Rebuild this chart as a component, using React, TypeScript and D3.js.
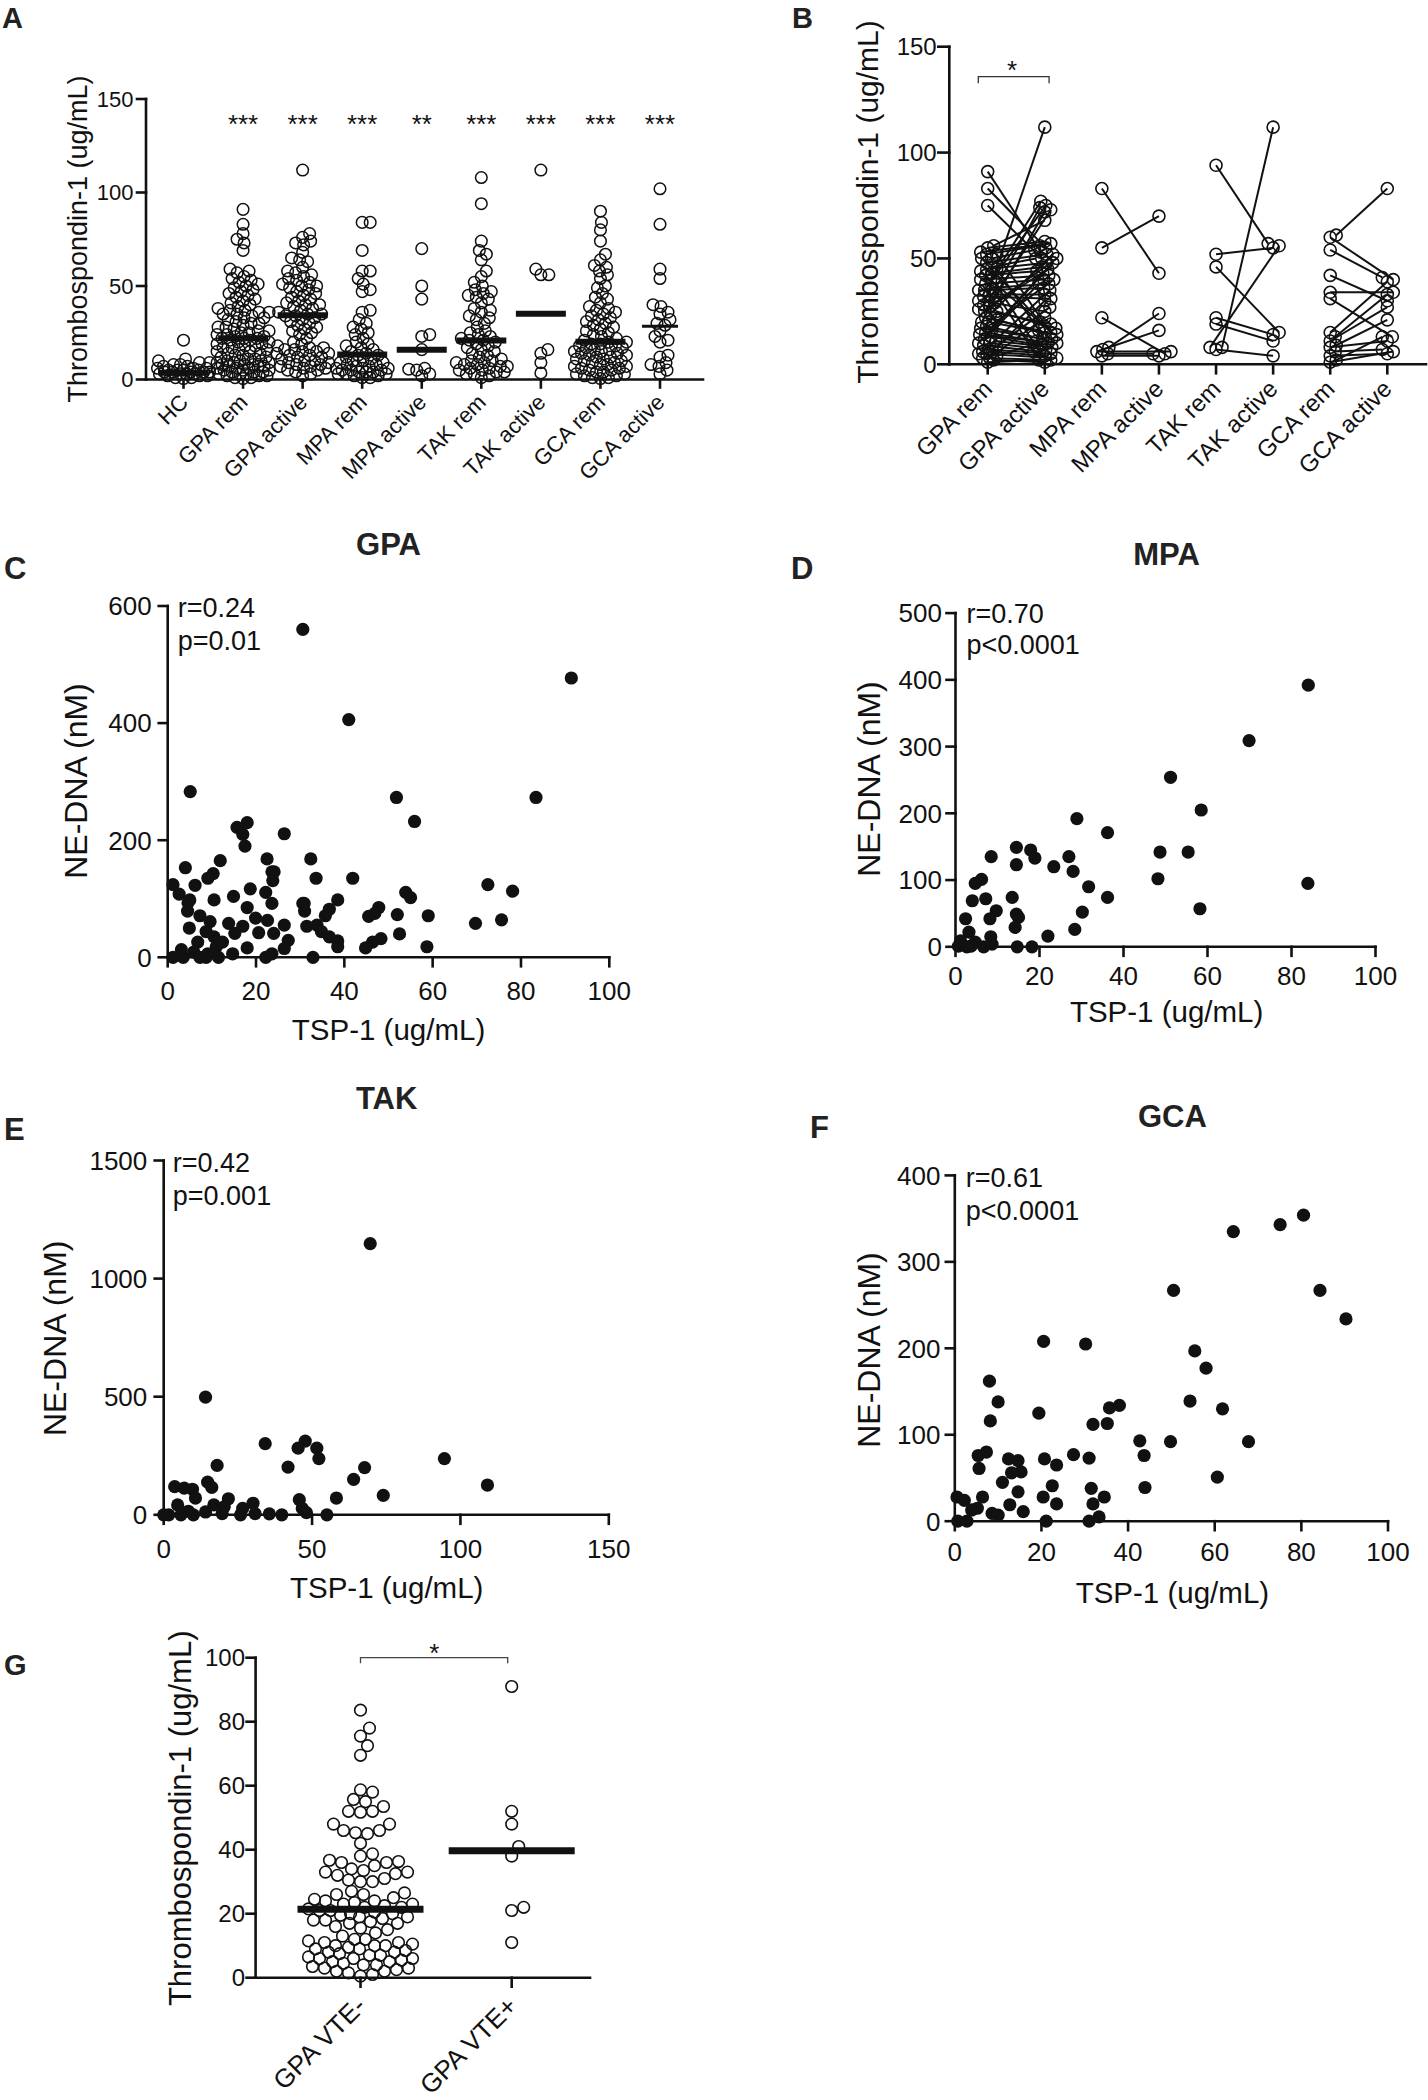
import React from 'react';
import * as d3 from 'd3';

const FONT = "'Liberation Sans', Arial, Helvetica, sans-serif";
const INK = '#111';

// ---------------- Panel A data ----------------
const groupsA = ['HC', 'GPA rem', 'GPA active', 'MPA rem', 'MPA active', 'TAK rem', 'TAK active', 'GCA rem', 'GCA active'];
const hcVals = [21, 11, 10, 9, 9, 8, 8, 7, 7, 6, 6, 6, 5, 5, 5, 5, 4, 4, 4, 4, 4, 3, 3, 3, 3, 2, 2, 2, 1, 1, 0.5];
const gpaRemVals = [91, 83, 78, 75, 73, 69, 59, 58, 57, 55, 54, 53, 52, 51, 50, 49, 48, 47, 46, 45, 44, 43, 42, 41, 40, 39, 38, 37, 37, 36, 36, 35, 35, 34, 33, 33, 32, 31, 30, 30, 29, 28, 28, 27, 26, 26, 25, 25, 24, 24, 23, 23, 22, 22, 22, 21, 21, 20, 20, 19, 19, 18, 18, 17, 17, 16, 16, 15, 15, 14, 14, 13, 13, 12, 12, 11, 11, 10, 10, 10, 9, 9, 9, 8, 8, 8, 7, 7, 7, 6, 6, 6, 5, 5, 5, 4, 4, 4, 3, 3, 3, 2, 2, 2, 1, 1, 0.5];
const gpaActVals = [112, 78, 76, 74, 73, 72, 68, 65, 64, 63, 60, 58, 57, 56, 55, 54, 53, 52, 51, 50, 50, 49, 48, 47, 46, 45, 44, 43, 42, 41, 40, 40, 39, 38, 37, 36, 35, 35, 34, 34, 33, 32, 31, 30, 29, 28, 27, 26, 25, 24, 22, 20, 19, 18, 17, 17, 16, 16, 15, 15, 14, 14, 13, 13, 12, 12, 11, 10, 10, 9, 9, 8, 8, 7, 7, 6, 6, 5, 5, 4, 3, 2];
const mpaRemVals = [84, 84, 69, 58, 58, 54, 51, 48, 47, 37, 36, 32, 30, 28, 27, 25, 24, 22, 20, 19, 18, 17, 16, 15, 14, 13, 13, 12, 11, 10, 10, 9, 9, 8, 8, 7, 7, 6, 6, 6, 5, 5, 5, 4, 4, 4, 3, 3, 3, 2, 2, 1, 1];
const mpaActVals = [70, 50, 43, 24, 23, 16, 6, 5.5, 5, 3, 2];
const takRemVals = [108, 94, 74, 69, 67, 64, 58, 55, 52, 50, 48, 47, 46, 45, 44, 43, 41, 38, 37, 36, 34, 33, 32, 30, 28, 26, 25, 24, 23, 22, 21, 21, 20, 19, 18, 17, 16, 15, 14, 13, 12, 11, 10, 10, 9, 9, 8, 8, 7, 7, 6, 6, 5, 5, 4, 4, 3, 3, 2, 1];
const takActVals = [112, 59, 56, 56, 16, 14, 9, 3.5];
const gcaRemVals = [90, 84, 80, 74, 67, 64, 61, 60, 58, 56, 54, 50, 49, 46, 44, 43, 41, 39, 38, 37, 36, 35, 34, 33, 32, 31, 30, 29, 28, 27, 26, 25, 24, 23, 22, 21, 20, 20, 19, 19, 18, 18, 17, 17, 16, 16, 15, 15, 14, 14, 13, 13, 12, 12, 11, 11, 10, 10, 9, 9, 8, 8, 7, 7, 6, 6, 5, 5, 4, 4, 3, 3, 2, 2, 1, 1, 0.5];
const gcaActVals = [102, 83, 59, 54, 40, 39, 36, 35, 32, 30, 29, 26, 23, 21, 20, 13, 12, 9, 8, 7, 5, 3];
const valuesA = [hcVals, gpaRemVals, gpaActVals, mpaRemVals, mpaActVals, takRemVals, takActVals, gcaRemVals, gcaActVals];
const mediansA = [3.6, 22.1, 34.3, 13.4, 15.9, 20.9, 35.2, 20.2, 28.5];
const starsA = ['', '***', '***', '***', '**', '***', '***', '***', '***'];
const ticksA = [0, 50, 100, 150];

// ---------------- Panel B data ----------------
const groupsB = ['GPA rem', 'GPA active', 'MPA rem', 'MPA active', 'TAK rem', 'TAK active', 'GCA rem', 'GCA active'];
const pairsGPA: [number, number][] = [[91, 53], [83, 55], [75, 50], [28, 112], [40, 77], [35, 75], [30, 74], [25, 73], [20, 72], [56, 68], [55, 58], [53, 57], [52, 56], [50, 54], [48, 52], [46, 50], [45, 48], [43, 46], [42, 44], [40, 42], [38, 40], [36, 38], [35, 36], [33, 33], [32, 31], [30, 25], [29, 50], [27, 45], [26, 19], [25, 17], [24, 52], [22, 16], [21, 15], [20, 14], [19, 40], [18, 13], [17, 12], [16, 48], [15, 11], [14, 10], [13, 9], [12, 38], [11, 8], [10, 7], [9, 6], [8, 30], [7, 5], [6, 4], [5, 3], [4, 12], [3, 2], [2, 1], [1, 2], [45, 10], [50, 18], [52, 15], [38, 8], [34, 6], [44, 20], [10, 43], [6, 35], [5, 27], [3, 22]];
const pairsMPA: [number, number][] = [[83, 43], [55, 70], [22, 5], [8, 24], [7, 16], [6, 6], [5, 5], [4, 4]];
const pairsTAK: [number, number][] = [[94, 57], [52, 55], [46, 15], [22, 14], [19, 11], [8, 112], [8, 56], [7, 4]];
const pairsGCA: [number, number][] = [[61, 83], [60, 40], [54, 41], [42, 30], [34, 34], [31, 13], [15, 39], [13, 33], [11, 27], [9, 21], [8, 11], [6, 7], [4, 5], [2, 13], [1, 6]];
const pairsB = [pairsGPA, pairsMPA, pairsTAK, pairsGCA];
const ticksB = [0, 50, 100, 150];

// ---------------- Panels C-F data ----------------
const gpaTSP = [30.6, 91.4, 41, 5.1, 51.8, 83.4, 55.9, 15.7, 18, 17, 17.5, 26.4, 22.5, 32.4, 11.9, 4, 23.6, 10.3, 9.1, 33.6, 41.9, 23.8, 1.2, 6.2, 72.5, 78.1, 2.6, 18.7, 22.2, 53.9, 55, 10.5, 14.9, 23.6, 38.5, 4.6, 30.6, 18, 31, 59, 45.5, 47.8, 46.9, 52, 4.5, 7.3, 36.6, 35.7, 69.7, 75.6, 19.9, 22.6, 9.6, 13.8, 4.9, 17, 31.5, 26.4, 33.8, 52.5, 15.2, 8.7, 10.5, 20.6, 24, 34.8, 36.6, 38.5, 48.3, 46.4, 27.3, 12.4, 6.8, 44.8, 58.7, 38.5, 18, 26.4, 11, 3.1, 5.9, 1.2, 3.5, 8.7, 11.5, 22.2, 32.9, 23.6, 9.1, 7.3, 14.7, 24.1, 5, 30.9];
const gpaNE = [560, 477, 406, 283, 273, 273, 232, 222, 230, 210, 190, 211, 168, 168, 165, 153, 146, 143, 135, 135, 135, 131, 124, 123, 124, 113, 108, 117, 111, 111, 102, 98, 104, 92, 98, 93, 92, 85, 79, 71, 70, 85, 75, 73, 79, 71, 82, 71, 58, 64, 67, 63, 61, 58, 50, 53, 53, 55, 55, 40, 41, 44, 35, 42, 41, 44, 35, 28, 32, 26, 29, 26, 26, 16, 18, 18, 16, 15, 18, 13, 9, 0, 0, 0, 0, 0, 0, 6, 6, 0, 6, 146, 98, 92];
const mpaTSP = [84, 69.9, 51.2, 58.5, 28.9, 36.2, 14.5, 17.9, 18.9, 8.5, 27, 48.7, 55.4, 14.5, 23.4, 28, 48.2, 83.9, 6.2, 4.7, 31.7, 4, 7.2, 13.5, 36.2, 58.2, 9.7, 14.5, 8.2, 30.2, 15, 2.4, 14.2, 28.4, 22, 3.2, 8.4, 1.2, 4.7, 14.7, 18.2, 2.7, 6.7, 8.7, 0.7, 3.7];
const mpaNE = [392, 309, 254, 205, 192, 171, 149, 145, 133, 135, 135, 142, 142, 123, 120, 113, 102, 95, 101, 95, 90, 69, 72, 74, 74, 57, 54, 49, 42, 52, 44, 42, 29, 26, 16, 22, 15, 9, 7, 0, 0, 0, 0, 4, 1, 1];
const takTSP = [69.6, 14.1, 34.2, 47.7, 45.3, 51.6, 52.3, 94.6, 18, 41.9, 67.7, 64, 109.1, 14.8, 16.2, 3.7, 6.9, 9.7, 74, 58.2, 45.7, 21.8, 10.7, 4.7, 30.1, 16.9, 20.4, 46.7, 26.6, 35.6, 39.8, 55, 25.9, 0, 1.7, 5.8, 10, 14.1, 19.7, 30.8, 48.1, 8.3];
const takNE = [1148, 498, 301, 312, 282, 282, 238, 238, 209, 202, 200, 150, 126, 138, 116, 119, 113, 108, 82, 71, 64, 68, 71, 42, 49, 42, 34, 27, 27, 4, 0, 0, 0, 0, 0, 0, 0, 12, 5, 5, 9, 15];
const gcaTSP = [80.5, 75.1, 64.3, 84.3, 50.5, 90.3, 20.5, 30.2, 55.4, 58, 8, 10, 54.3, 61.8, 38, 35.7, 19.4, 8.2, 35.2, 31.9, 42.7, 49.8, 67.8, 43.7, 27.4, 7.3, 5.4, 31, 20.7, 12.4, 14.6, 23.5, 5.6, 15.3, 13.1, 60.6, 11, 22.5, 43.9, 14.6, 31.5, 6.4, 20.4, 34.5, 0.5, 2.2, 12.7, 23.5, 31.9, 5.2, 8.6, 10, 15.8, 3.9, 33.3, 21.1, 31, 0.7, 2.8];
const gcaNE = [354, 343, 335, 267, 267, 234, 208, 205, 197, 177, 162, 138, 139, 130, 134, 131, 125, 116, 113, 112, 93, 92, 92, 76, 77, 80, 76, 73, 72, 72, 70, 65, 61, 57, 56, 51, 45, 41, 39, 34, 38, 28, 28, 28, 28, 24, 19, 20, 20, 15, 9, 7, 11, 13, 5, 0, 0, 0, 0];

// ---------------- Panel G data ----------------
const groupsG = ['GPA VTE-', 'GPA VTE+'];
const vteNeg = [83.6, 78, 75.5, 72.5, 69.5, 58.7, 58, 55.7, 55, 53.5, 52, 52, 51.7, 48, 48, 46, 46, 45.3, 45, 42, 38.7, 38, 36.7, 36.3, 36, 36, 35, 34, 33.5, 33, 33, 32.5, 32, 31, 30.5, 30, 30, 27, 26.5, 26, 26, 25, 24.5, 24, 24, 23.5, 23, 23, 22.5, 22, 22, 21.5, 21, 21, 20.5, 20, 20, 19.5, 19, 19, 18.5, 18, 18, 17.5, 17, 17, 16, 15.5, 15, 14, 13, 12, 12, 11.5, 11, 11, 10.5, 10, 10, 10, 9.5, 9, 9, 8.5, 8, 8, 7.5, 7, 7, 6.5, 6, 6, 6, 5.5, 5, 5, 4.5, 4, 4, 3.5, 3, 3, 2.5, 2, 2, 1.5, 1, 0.5];
const vtePos = [91, 52, 48, 41, 38, 22, 21, 11];
const valuesG = [vteNeg, vtePos];
const mediansG = [21.4, 39.7];
const ticksG = [0, 20, 40, 60, 80, 100];

// ---------------- helpers ----------------
function swarm(vals: number[], y: (v: number) => number, d: number, maxW: number): number[] {
  const idx = vals.map((_, i) => i).sort((a, b) => vals[a] - vals[b]);
  const placed: { x: number; y: number }[] = [];
  const out = new Array(vals.length).fill(0);
  const cands: number[] = [0];
  for (let k = 1; k <= maxW; k++) cands.push(k, -k);
  for (const i of idx) {
    const yy = y(vals[i]);
    let best = 0;
    let bestScore = -Infinity;
    for (const c of cands) {
      let minD = Infinity;
      for (const p of placed) {
        const dy = p.y - yy;
        if (Math.abs(dy) >= d) continue;
        const dd = Math.hypot(p.x - c, dy);
        if (dd < minD) minD = dd;
      }
      if (minD >= d) { best = c; bestScore = Infinity; break; }
      if (minD > bestScore) { bestScore = minD; best = c; }
    }
    placed.push({ x: best, y: yy });
    out[i] = best;
  }
  return out;
}

const axisStroke = { stroke: INK, strokeWidth: 2.6, strokeLinecap: 'square' as const };

function RotLabel({ x, y, text, size }: { x: number; y: number; text: string; size: number }) {
  return (
    <text x={x} y={y} textAnchor="end" fontSize={size} fill={INK} transform={`rotate(-45 ${x} ${y})`}>{text}</text>
  );
}

function PanelA() {
  const x = d3.scalePoint<string>().domain(groupsA).range([183.5, 660]);
  const y = d3.scaleLinear().domain([0, 150]).range([379.5, 99]);
  const ax = 146;
  const ay = y(0);
  return (
    <g>
      <text x={2} y={28} fontSize={29} fontWeight="bold" fill="#222">A</text>
      <text transform={`translate(87,239) rotate(-90)`} textAnchor="middle" fontSize={27} fill={INK}>Thrombospondin-1 (ug/mL)</text>
      <line x1={ax} x2={ax} y1={y(150)} y2={ay} {...axisStroke} />
      <line x1={ax} x2={703} y1={ay} y2={ay} {...axisStroke} />
      {ticksA.map(t => (
        <g key={t}>
          <line x1={ax - 9} x2={ax} y1={y(t)} y2={y(t)} {...axisStroke} />
          <text x={133.5} y={y(t)} dy="0.36em" textAnchor="end" fontSize={22} fill={INK}>{t}</text>
        </g>
      ))}
      {groupsA.map((g, i) => {
        const cx = x(g) as number;
        const offs = swarm(valuesA[i], y, 7.5, 26);
        const thin = g === 'GCA active';
        const bw = thin ? 36 : 50;
        return (
          <g key={g}>
            <line x1={cx} x2={cx} y1={ay} y2={ay + 8} {...axisStroke} />
            {valuesA[i].map((v, j) => (
              <circle key={j} cx={cx + offs[j]} cy={y(v)} r={5.8} fill="none" stroke={INK} strokeWidth={1.5} />
            ))}
            <line x1={cx - bw / 2} x2={cx + bw / 2} y1={y(mediansA[i])} y2={y(mediansA[i])} stroke={INK} strokeWidth={thin ? 3 : 6} />
            {starsA[i] && <text x={cx} y={133} textAnchor="middle" fontSize={26} fill={INK}>{starsA[i]}</text>}
            <RotLabel x={cx + 6} y={ay + 24} text={g} size={22} />
          </g>
        );
      })}
    </g>
  );
}

function PanelB() {
  const x = d3.scalePoint<string>().domain(groupsB).range([987.7, 1387.3]);
  const y = d3.scaleLinear().domain([0, 150]).range([364.3, 46.7]);
  const ax = 949.3;
  const ay = y(0);
  return (
    <g>
      <text x={792} y={28} fontSize={29} fontWeight="bold" fill="#222">B</text>
      <text transform={`translate(878,202) rotate(-90)`} textAnchor="middle" fontSize={30} fill={INK}>Thrombospondin-1 (ug/mL)</text>
      <line x1={ax} x2={ax} y1={y(150)} y2={ay} {...axisStroke} />
      <line x1={ax} x2={1426} y1={ay} y2={ay} {...axisStroke} />
      {ticksB.map(t => (
        <g key={t}>
          <line x1={ax - 11} x2={ax} y1={y(t)} y2={y(t)} {...axisStroke} />
          <text x={936.7} y={y(t)} dy="0.36em" textAnchor="end" fontSize={24} fill={INK}>{t}</text>
        </g>
      ))}
      {groupsB.map(g => {
        const cx = x(g) as number;
        return (
          <g key={g}>
            <line x1={cx} x2={cx} y1={ay} y2={ay + 9} {...axisStroke} />
            <RotLabel x={cx + 6} y={ay + 26} text={g} size={24} />
          </g>
        );
      })}
      {pairsB.map((pairs, k) => {
        const xr = x(groupsB[2 * k]) as number;
        const xa = x(groupsB[2 * k + 1]) as number;
        const rem = pairs.map(p => p[0]);
        const act = pairs.map(p => p[1]);
        const oR = swarm(rem, y, 6, 9);
        const oA = swarm(act, y, 6, 12);
        return (
          <g key={k}>
            {pairs.map((p, j) => (
              <line key={'l' + j} x1={xr + oR[j]} y1={y(p[0])} x2={xa + oA[j]} y2={y(p[1])} stroke={INK} strokeWidth={2} />
            ))}
            {pairs.map((p, j) => (
              <g key={'c' + j}>
                <circle cx={xr + oR[j]} cy={y(p[0])} r={6} fill="none" stroke={INK} strokeWidth={1.6} />
                <circle cx={xa + oA[j]} cy={y(p[1])} r={6} fill="none" stroke={INK} strokeWidth={1.6} />
              </g>
            ))}
          </g>
        );
      })}
      <path d={`M${x('GPA rem')! - 9.4},83.3 V76.7 H${x('GPA active')! + 4.3} V83.3`} fill="none" stroke="#333" strokeWidth={1.3} />
      <text x={1012} y={79} textAnchor="middle" fontSize={26} fill={INK}>*</text>
    </g>
  );
}

interface ScatterCfg {
  letter: string; letterX: number; letterY: number;
  title: string; titleX: number; titleY: number;
  xs: number[]; ys: number[];
  xDomain: [number, number]; yDomain: [number, number];
  xTicks: number[]; yTicks: number[];
  xRange: [number, number]; yRange: [number, number];
  rText: string; pText: string; statX: number; rY: number; pY: number;
  tickRight: number; xLabY: number; xTitleY: number; yTitleX: number; yTitleY: number;
}

function Scatter(c: ScatterCfg) {
  const x = d3.scaleLinear().domain(c.xDomain).range(c.xRange);
  const y = d3.scaleLinear().domain(c.yDomain).range(c.yRange);
  const ax = c.xRange[0];
  const ay = c.yRange[0];
  const midX = (c.xRange[0] + c.xRange[1]) / 2;
  return (
    <g>
      <text x={c.letterX} y={c.letterY} fontSize={31} fontWeight="bold" fill="#222">{c.letter}</text>
      <text x={c.titleX} y={c.titleY} textAnchor="middle" fontSize={31} fontWeight="bold" fill="#222">{c.title}</text>
      <text transform={`translate(${c.yTitleX},${c.yTitleY}) rotate(-90)`} textAnchor="middle" fontSize={32} fill={INK}>NE-DNA (nM)</text>
      <text x={c.titleX} y={c.xTitleY} textAnchor="middle" fontSize={29.5} fill={INK}>TSP-1 (ug/mL)</text>
      <line x1={ax} x2={ax} y1={c.yRange[1]} y2={ay} {...axisStroke} />
      <line x1={ax} x2={c.xRange[1]} y1={ay} y2={ay} {...axisStroke} />
      {c.yTicks.map(t => (
        <g key={'y' + t}>
          <line x1={ax - 9} x2={ax} y1={y(t)} y2={y(t)} {...axisStroke} />
          <text x={c.tickRight} y={y(t)} dy="0.36em" textAnchor="end" fontSize={26} fill={INK}>{t}</text>
        </g>
      ))}
      {c.xTicks.map(t => (
        <g key={'x' + t}>
          <line x1={x(t)} x2={x(t)} y1={ay} y2={ay + 9} {...axisStroke} />
          <text x={x(t)} y={c.xLabY} textAnchor="middle" fontSize={26} fill={INK}>{t}</text>
        </g>
      ))}
      <text x={c.statX} y={c.rY} fontSize={27} fill={INK}>{c.rText}</text>
      <text x={c.statX} y={c.pY} fontSize={27} fill={INK}>{c.pText}</text>
      {c.xs.map((v, i) => (
        <circle key={i} cx={x(v)} cy={y(c.ys[i])} r={6.6} fill={INK} />
      ))}
      <g data-mid={midX} />
    </g>
  );
}

const scatterC: ScatterCfg = {
  letter: 'C', letterX: 4, letterY: 579, title: 'GPA', titleX: 388.5, titleY: 555,
  xs: gpaTSP, ys: gpaNE, xDomain: [0, 100], yDomain: [0, 600],
  xTicks: [0, 20, 40, 60, 80, 100], yTicks: [0, 200, 400, 600],
  xRange: [167.7, 609.3], yRange: [957.3, 606],
  rText: 'r=0.24', pText: 'p=0.01', statX: 177.7, rY: 616.7, pY: 650,
  tickRight: 151.7, xLabY: 1000, xTitleY: 1040, yTitleX: 87, yTitleY: 781,
};
const scatterD: ScatterCfg = {
  letter: 'D', letterX: 791, letterY: 579.3, title: 'MPA', titleX: 1166.6, titleY: 564.8,
  xs: mpaTSP, ys: mpaNE, xDomain: [0, 100], yDomain: [0, 500],
  xTicks: [0, 20, 40, 60, 80, 100], yTicks: [0, 100, 200, 300, 400, 500],
  xRange: [955.5, 1375.5], yRange: [946.8, 613.1],
  rText: 'r=0.70', pText: 'p<0.0001', statX: 966.4, rY: 623.3, pY: 653.7,
  tickRight: 942, xLabY: 985, xTitleY: 1022, yTitleX: 880, yTitleY: 779,
};
const scatterE: ScatterCfg = {
  letter: 'E', letterX: 4, letterY: 1140, title: 'TAK', titleX: 386.7, titleY: 1109.3,
  xs: takTSP, ys: takNE, xDomain: [0, 150], yDomain: [0, 1500],
  xTicks: [0, 50, 100, 150], yTicks: [0, 500, 1000, 1500],
  xRange: [163.7, 608.8], yRange: [1514.8, 1160.5],
  rText: 'r=0.42', pText: 'p=0.001', statX: 172.8, rY: 1171.7, pY: 1205,
  tickRight: 147.3, xLabY: 1557.5, xTitleY: 1598, yTitleX: 66, yTitleY: 1338.3,
};
const scatterF: ScatterCfg = {
  letter: 'F', letterX: 810, letterY: 1138, title: 'GCA', titleX: 1172.4, titleY: 1127.4,
  xs: gcaTSP, ys: gcaNE, xDomain: [0, 100], yDomain: [0, 400],
  xTicks: [0, 20, 40, 60, 80, 100], yTicks: [0, 100, 200, 300, 400],
  xRange: [954.8, 1388], yRange: [1521.2, 1175.4],
  rText: 'r=0.61', pText: 'p<0.0001', statX: 965.8, rY: 1187, pY: 1220.3,
  tickRight: 940.5, xLabY: 1560.5, xTitleY: 1602.6, yTitleX: 880.3, yTitleY: 1350,
};
const scatters = [scatterC, scatterD, scatterE, scatterF];

function PanelG() {
  const x = d3.scalePoint<string>().domain(groupsG).range([360.5, 511.7]);
  const y = d3.scaleLinear().domain([0, 100]).range([1977.7, 1657.7]);
  const ax = 255.6;
  const ay = y(0);
  return (
    <g>
      <text x={4} y={1675} fontSize={29} fontWeight="bold" fill="#222">G</text>
      <text transform={`translate(191.4,1818.3) rotate(-90)`} textAnchor="middle" fontSize={31} fill={INK}>Thrombospondin-1 (ug/mL)</text>
      <line x1={ax} x2={ax} y1={y(100)} y2={ay} {...axisStroke} />
      <line x1={ax} x2={590} y1={ay} y2={ay} {...axisStroke} />
      {ticksG.map(t => (
        <g key={t}>
          <line x1={ax - 9} x2={ax} y1={y(t)} y2={y(t)} {...axisStroke} />
          <text x={245} y={y(t)} dy="0.36em" textAnchor="end" fontSize={24} fill={INK}>{t}</text>
        </g>
      ))}
      {groupsG.map((g, i) => {
        const cx = x(g) as number;
        const offs = swarm(valuesG[i], y, 11.5, 52);
        return (
          <g key={g}>
            <line x1={cx} x2={cx} y1={ay} y2={ay + 9} {...axisStroke} />
            {valuesG[i].map((v, j) => (
              <circle key={j} cx={cx + offs[j]} cy={y(v)} r={5.8} fill="none" stroke={INK} strokeWidth={1.6} />
            ))}
            <line x1={cx - 63} x2={cx + 63} y1={y(mediansG[i])} y2={y(mediansG[i])} stroke={INK} strokeWidth={7} />
            <RotLabel x={cx + 7} y={ay + 30} text={g} size={26} />
          </g>
        );
      })}
      <path d={`M${x('GPA VTE-')},1663.3 V1657.7 H${x('GPA VTE+')! - 4} V1663.3`} fill="none" stroke="#444" strokeWidth={1.3} />
      <text x={434.4} y={1662} textAnchor="middle" fontSize={26} fill={INK}>*</text>
    </g>
  );
}

export default function App() {
  return (
    <svg width={1428} height={2100} style={{ position: 'absolute', left: 0, top: 0, display: 'block' }} fontFamily={FONT}>
      <rect width={1428} height={2100} fill="#fff" />
      <PanelA />
      <PanelB />
      {scatters.map(c => <Scatter key={c.letter} {...c} />)}
      <PanelG />
    </svg>
  );
}
